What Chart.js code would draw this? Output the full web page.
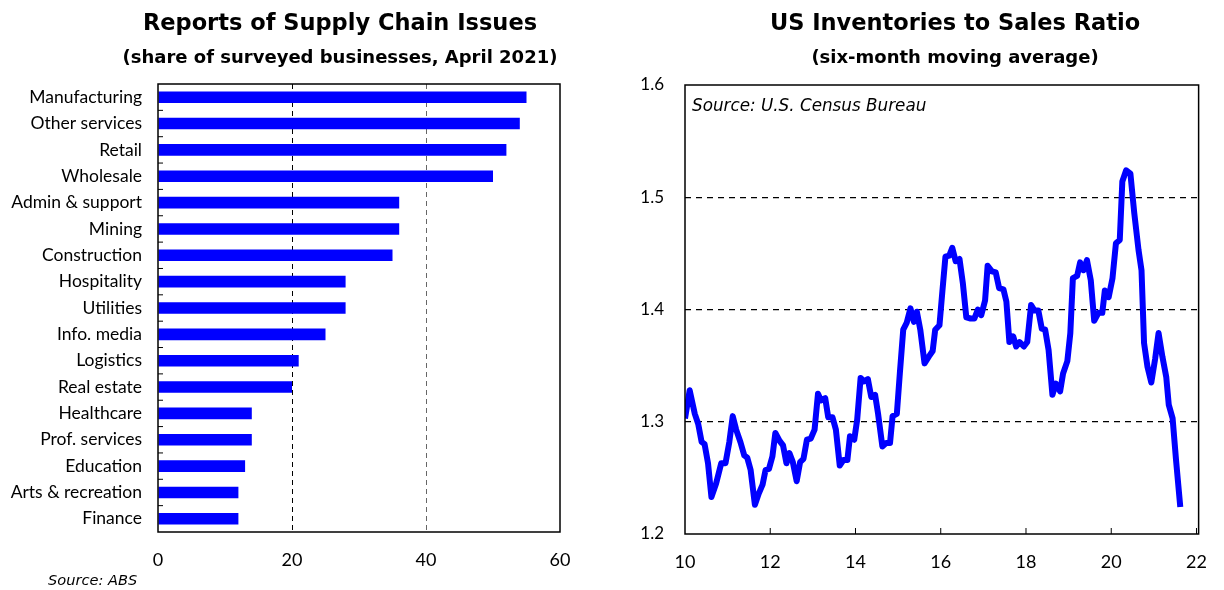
<!DOCTYPE html>
<html><head><meta charset="utf-8">
<script src="https://cdn.jsdelivr.net/npm/chart.js@4.4.0/dist/chart.umd.min.js"></script>
<style>
html,body{margin:0;padding:0;background:#fff;}
#wrap{position:relative;width:1224px;height:590px;overflow:hidden;background:#fff;}
.box{position:absolute;top:0;height:590px;}
#b1{left:0;width:600px;}
#b2{left:600px;width:624px;}
canvas{display:block;}
</style></head><body>
<div id="wrap">
<div class="box" id="b1"><canvas id="c1" width="600" height="590"></canvas></div>
<div class="box" id="b2"><canvas id="c2" width="624" height="590"></canvas></div>
</div>
<script>
const FONT = 'Lato, "Open Sans", sans-serif';
const TFONT = '"DejaVu Sans", "Open Sans", sans-serif';

// ---- Left chart data ----
const sectors = ['Manufacturing','Other services','Retail','Wholesale','Admin & support','Mining','Construction','Hospitality','Utilities','Info. media','Logistics','Real estate','Healthcare','Prof. services','Education','Arts & recreation','Finance'];
const supplyShare = [55,54,52,50,36,36,35,28,28,25,21,20,14,14,13,12,12];
const shareTicks = [0,20,40,60];

// ---- Right chart data ----
const ratioYears = [10.00,10.11,10.23,10.31,10.39,10.46,10.54,10.62,10.73,10.85,10.95,11.04,11.12,11.20,11.30,11.39,11.46,11.54,11.64,11.73,11.82,11.89,11.97,12.05,12.12,12.22,12.30,12.38,12.45,12.53,12.62,12.70,12.78,12.86,12.95,13.04,13.12,13.19,13.29,13.36,13.46,13.54,13.63,13.72,13.81,13.87,13.97,14.04,14.12,14.20,14.29,14.37,14.46,14.53,14.63,14.72,14.81,14.87,14.97,15.04,15.12,15.20,15.29,15.37,15.44,15.52,15.62,15.72,15.81,15.87,15.97,16.04,16.11,16.20,16.27,16.35,16.44,16.52,16.60,16.70,16.79,16.87,16.95,17.04,17.10,17.20,17.29,17.37,17.47,17.54,17.61,17.70,17.77,17.85,17.95,18.03,18.12,18.20,18.29,18.37,18.45,18.53,18.62,18.70,18.80,18.87,18.97,19.04,19.10,19.20,19.27,19.35,19.43,19.52,19.60,19.70,19.79,19.85,19.94,20.03,20.11,20.20,20.26,20.35,20.45,20.54,20.64,20.71,20.77,20.85,20.94,21.03,21.11,21.20,21.29,21.35,21.44,21.52,21.62];
const ratioValues = [1.303,1.328,1.307,1.298,1.282,1.280,1.263,1.233,1.245,1.263,1.263,1.282,1.305,1.293,1.282,1.270,1.268,1.257,1.226,1.236,1.244,1.257,1.258,1.269,1.290,1.283,1.279,1.263,1.272,1.264,1.247,1.264,1.267,1.284,1.285,1.293,1.325,1.319,1.321,1.304,1.304,1.293,1.261,1.266,1.266,1.287,1.284,1.302,1.339,1.336,1.338,1.322,1.324,1.307,1.278,1.281,1.281,1.305,1.307,1.343,1.382,1.388,1.401,1.389,1.398,1.382,1.352,1.358,1.363,1.382,1.386,1.417,1.447,1.448,1.455,1.443,1.445,1.423,1.393,1.392,1.392,1.400,1.395,1.408,1.439,1.434,1.433,1.419,1.418,1.407,1.371,1.376,1.367,1.371,1.367,1.371,1.404,1.399,1.399,1.383,1.382,1.364,1.324,1.334,1.327,1.343,1.354,1.379,1.428,1.430,1.442,1.435,1.444,1.426,1.390,1.397,1.397,1.417,1.411,1.428,1.459,1.462,1.514,1.524,1.521,1.486,1.453,1.435,1.370,1.349,1.335,1.356,1.379,1.358,1.340,1.315,1.303,1.266,1.224];
const ratioTicksX = [10,12,14,16,18,20,22];
const ratioTicksY = [1.2,1.3,1.4,1.5,1.6];

Chart.defaults.font.family = FONT;
Chart.defaults.color = '#000';

function frameAndText(opts) {
  return {
    id: 'frameText_' + opts.key,
    afterDraw(chart) {
      const ctx = chart.ctx, a = chart.chartArea;
      ctx.save();
      ctx.strokeStyle = '#000';
      ctx.lineWidth = 1.5;
      ctx.setLineDash([]);
      ctx.strokeRect(a.left, a.top, a.right - a.left, a.bottom - a.top);
      if (opts.ticks) opts.ticks(chart, ctx, a);
      ctx.fillStyle = '#000';
      ctx.textAlign = 'center';
      ctx.textBaseline = 'alphabetic';
      ctx.font = 'bold 22.5px ' + TFONT;
      ctx.fillText(opts.title, opts.cx, 30);
      ctx.font = 'bold 18px ' + TFONT;
      ctx.fillText(opts.subtitle, opts.cx, 63);
      ctx.font = 'oblique ' + opts.srcSize + 'px ' + TFONT;
      ctx.textAlign = 'left';
      ctx.fillText(opts.source, opts.sx, opts.sy);
      ctx.restore();
    }
  };
}

// ---- Left chart ----
new Chart(document.getElementById('c1'), {
  type: 'bar',
  data: {
    labels: sectors,
    datasets: [{
      data: supplyShare,
      backgroundColor: '#0000ff',
      borderWidth: 0,
      barPercentage: 0.44,
      categoryPercentage: 1.0
    }]
  },
  options: {
    indexAxis: 'y',
    responsive: false,
    animation: false,
    layout: { padding: { left: 0, right: 40, top: 84, bottom: 18 } },
    plugins: { legend: { display: false }, tooltip: { enabled: false } },
    scales: {
      x: {
        type: 'linear', min: 0, max: 60,
        afterBuildTicks: s => { s.ticks = shareTicks.map(v => ({ value: v })); },
        afterFit: s => { s.height = 40; },
        ticks: { font: { size: 18 }, color: '#000', padding: 17 },
        grid: {
          drawTicks: false,
          lineWidth: 1,
          color: c => (c.tick && c.tick.value === 20) ? '#000' : (c.tick && c.tick.value === 40) ? '#666' : 'rgba(0,0,0,0)'
        },
        border: { display: false, dash: [5, 4] }
      },
      y: {
        type: 'category',
        afterFit: s => { s.width = 158; },
        ticks: { font: { size: 17.5 }, color: '#000', padding: 16 },
        grid: { display: false, drawTicks: false },
        border: { display: false }
      }
    }
  },
  plugins: [frameAndText({
    key: 'l', title: 'Reports of Supply Chain Issues', subtitle: '(share of surveyed businesses, April 2021)',
    cx: 340, source: 'Source: ABS', sx: 48, sy: 585, srcSize: 14.6,
    ticks: (chart, ctx, a) => {
      const y = chart.scales.y;
      ctx.lineWidth = 1;
      for (let i = 0; i < sectors.length - 1; i++) {
        const p = (y.getPixelForValue(i) + y.getPixelForValue(i + 1)) / 2;
        ctx.beginPath(); ctx.moveTo(a.left, p); ctx.lineTo(a.left + 5, p); ctx.stroke();
      }
    }
  })]
});

// ---- Right chart ----
new Chart(document.getElementById('c2'), {
  type: 'line',
  data: {
    datasets: [{
      data: ratioYears.map((x, i) => ({ x: x, y: ratioValues[i] })),
      borderColor: '#0000ff',
      borderWidth: 6,
      pointRadius: 0,
      tension: 0,
      fill: false,
      borderJoinStyle: 'round'
    }]
  },
  options: {
    responsive: false,
    animation: false,
    layout: { padding: { left: 0, right: 17, top: 85, bottom: 16 } },
    plugins: { legend: { display: false }, tooltip: { enabled: false } },
    scales: {
      x: {
        type: 'linear', min: 10, max: 22.05,
        afterBuildTicks: s => { s.ticks = ratioTicksX.map(v => ({ value: v })); },
        afterFit: s => { s.height = 40; },
        ticks: { font: { size: 18 }, color: '#000', padding: 17 },
        grid: { display: false, drawTicks: false },
        border: { display: false }
      },
      y: {
        type: 'linear', min: 1.2, max: 1.6,
        afterBuildTicks: s => { s.ticks = ratioTicksY.map(v => ({ value: v })); },
        afterFit: s => { s.width = 85; },
        ticks: { font: { size: 17 }, color: '#000', padding: 21, callback: v => Number(v).toFixed(1) },
        grid: {
          drawTicks: false,
          lineWidth: 1.2,
          color: c => (c.tick && c.tick.value > 1.25 && c.tick.value < 1.55) ? '#000' : 'rgba(0,0,0,0)'
        },
        border: { display: false, dash: [6, 5] }
      }
    }
  },
  plugins: [frameAndText({
    key: 'r', title: 'US Inventories to Sales Ratio', subtitle: '(six-month moving average)',
    cx: 355, source: 'Source: U.S. Census Bureau', sx: 92, sy: 111, srcSize: 16.8,
    ticks: (chart, ctx, a) => {
      const x = chart.scales.x;
      ctx.lineWidth = 1;
      ratioTicksX.forEach(v => {
        if (v === 10) return;
        const p = x.getPixelForValue(v);
        ctx.beginPath(); ctx.moveTo(p, a.bottom); ctx.lineTo(p, a.bottom - 6); ctx.stroke();
      });
    }
  })]
});
</script>
</body></html>
